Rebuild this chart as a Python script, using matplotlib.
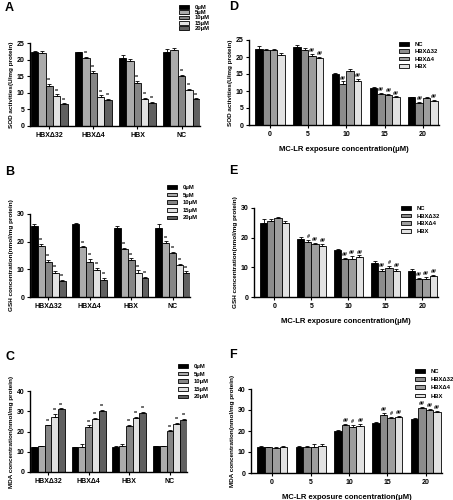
import matplotlib
matplotlib.use("Agg")
import matplotlib.pyplot as plt
import numpy as np

plt.rcParams["font.family"] = ["Liberation Sans", "DejaVu Sans"]
plt.rcParams["font.weight"] = "bold"

LINES = ["HBXΔ32", "HBXΔ4", "HBX", "NC"]
CONCS = ["0", "5", "10", "15", "20"]
CONC_LABELS = ["0μM", "5μM", "10μM", "15μM", "20μM"]
RIGHT_LINES = ["NC", "HBXΔ32", "HBXΔ4", "HBX"]

# rows: HBXΔ32, HBXΔ4, HBX, NC ; cols: 0, 5, 10, 15, 20 μM
sod_mean = [[22.2, 22.1, 12.1, 9.1, 6.5],
            [22.2, 20.4, 16.0, 8.8, 7.8],
            [20.5, 19.6, 13.0, 8.1, 7.0],
            [22.3, 22.8, 15.0, 10.8, 8.1]]
sod_err = [[0.3, 0.6, 0.7, 0.4, 0.3],
           [0.2, 0.4, 0.5, 0.4, 0.4],
           [0.8, 0.5, 0.5, 0.3, 0.3],
           [0.8, 0.6, 0.4, 0.3, 0.2]]
gsh_mean = [[25.6, 18.5, 12.8, 8.8, 5.9],
            [26.5, 18.0, 12.7, 9.7, 6.2],
            [25.1, 17.2, 13.5, 8.7, 7.0],
            [25.0, 19.6, 15.8, 11.6, 8.7]]
gsh_err = [[0.8, 0.8, 0.5, 0.7, 0.4],
           [0.3, 0.3, 1.0, 0.7, 0.6],
           [0.4, 0.6, 0.5, 0.9, 0.3],
           [1.4, 0.5, 0.5, 0.5, 0.6]]
mda_mean = [[12.2, 12.6, 23.0, 27.4, 30.9],
            [12.1, 12.3, 22.0, 26.0, 30.2],
            [12.5, 12.7, 22.5, 26.7, 29.0],
            [12.6, 12.6, 20.2, 23.9, 25.9]]
mda_err = [[0.2, 0.4, 0.3, 1.2, 0.5],
           [0.3, 1.3, 1.0, 0.6, 0.5],
           [0.5, 1.0, 0.7, 0.5, 0.6],
           [0.4, 0.3, 0.4, 0.4, 0.4]]

# significance vs 0 μM (left panels), rows as above
sod_star = [["", "", "**", "**", "**"],
            ["", "**", "**", "**", "**"],
            ["", "", "**", "**", "**"],
            ["", "", "**", "**", "**"]]
gsh_star = [["", "**", "**", "**", "**"]] * 4
mda_star = [["", "", "**", "**", "**"]] * 4

# significance vs NC (right panels): rows conc, cols NC, HBXΔ32, HBXΔ4, HBX
sod_hash = [["", "", "", ""],
            ["", "", "##", "##"],
            ["", "##", "", "##"],
            ["", "##", "##", "##"],
            ["", "##", "", "##"]]
gsh_hash = [["", "", "", ""],
            ["", "#", "##", "##"],
            ["", "##", "##", "##"],
            ["", "##", "#", "##"],
            ["", "##", "##", "##"]]
mda_hash = [["", "", "", ""],
            ["", "", "", ""],
            ["", "##", "#", "##"],
            ["", "##", "#", "##"],
            ["", "##", "##", "##"]]

LEFT_COLORS = ["#000000", "#ababab", "#858585", "#e2e2e2", "#606060"]
RIGHT_COLORS = ["#000000", "#8c8c8c", "#9e9e9e", "#e2e2e2"]

W, H = 453, 500
fig = plt.figure(figsize=(W / 100, H / 100), dpi=100)


def px_axes(left, top, right, bottom):
    return fig.add_axes([left / W, 1 - bottom / H, (right - left) / W, (bottom - top) / H])


def style_axes(ax, ymax, step):
    for side in ["top", "right"]:
        ax.spines[side].set_visible(False)
    for side in ["left", "bottom"]:
        ax.spines[side].set_linewidth(1.0)
    ax.set_ylim(0, ymax)
    ax.set_yticks(np.arange(0, ymax + 0.1, step))
    ax.tick_params(axis="both", labelsize=5, width=0.8, length=2.5, pad=1.5)
    for lab in ax.get_xticklabels() + ax.get_yticklabels():
        lab.set_fontweight("bold")


def add_legend(ax, leg_xy, spacing):
    ax.legend(loc="upper left", bbox_to_anchor=(leg_xy[0] / W, 1 - leg_xy[1] / H),
              bbox_transform=fig.transFigure, frameon=False, fontsize=4.2,
              handlelength=1.7, handleheight=0.6, labelspacing=spacing, borderpad=0,
              handletextpad=1.0)


def draw_left(box, means, errs, stars, ymax, step, ylabel, letter, letter_y, leg_xy, spacing):
    ax = px_axes(*box)
    means = np.array(means)
    errs = np.array(errs)
    w = 0.167
    x = np.arange(len(LINES))
    for j in range(len(CONCS)):
        xs = x + (j - 2) * w
        ax.bar(xs, means[:, j], w, color=LEFT_COLORS[j], edgecolor="black",
               linewidth=0.6, label=CONC_LABELS[j])
        ax.errorbar(xs, means[:, j], yerr=[np.zeros(len(LINES)), errs[:, j]],
                    fmt="none", ecolor="black", elinewidth=0.6, capsize=1.5, capthick=0.6)
        for i in range(len(LINES)):
            if stars[i][j]:
                ax.text(xs[i], means[i, j] + errs[i, j] + ymax * 0.01, stars[i][j],
                        ha="center", va="bottom", fontsize=3.8)
    ax.set_xlim(-0.44, 3.42)
    ax.set_xticks(x)
    ax.set_xticklabels(LINES)
    style_axes(ax, ymax, step)
    ax.set_ylabel(ylabel, fontsize=4.6, fontweight="bold", labelpad=2)
    fig.text(5 / W, 1 - letter_y / H, letter, fontsize=9, fontweight="bold",
             ha="left", va="center")
    add_legend(ax, leg_xy, spacing)


def draw_right(box, means, errs, hashes, ymax, step, ylabel, letter, letter_y, leg_xy, spacing):
    ax = px_axes(*box)
    means = np.array(means)
    errs = np.array(errs)
    order = [3, 0, 1, 2]  # NC, HBXΔ32, HBXΔ4, HBX
    w = 0.195
    x = np.arange(len(CONCS))
    for k, row in enumerate(order):
        xs = x + (k - 1.5) * w
        ax.bar(xs, means[row], w, color=RIGHT_COLORS[k], edgecolor="black",
               linewidth=0.6, label=RIGHT_LINES[k])
        ax.errorbar(xs, means[row], yerr=[np.zeros(len(CONCS)), errs[row]],
                    fmt="none", ecolor="black", elinewidth=0.6, capsize=1.5, capthick=0.6)
        for c in range(len(CONCS)):
            if hashes[c][k]:
                ax.text(xs[c], means[row, c] + errs[row, c] + ymax * 0.01, hashes[c][k],
                        ha="center", va="bottom", fontsize=3.8, style="italic")
    ax.set_xlim(-0.55, 4.42)
    ax.set_xticks(x)
    ax.set_xticklabels(CONCS)
    style_axes(ax, ymax, step)
    ax.set_ylabel(ylabel, fontsize=4.6, fontweight="bold", labelpad=2)
    ax.set_xlabel("MC-LR exposure concentration(μM)", fontsize=5.5, fontweight="bold",
                  labelpad=6)
    fig.text(229 / W, 1 - letter_y / H, letter, fontsize=9, fontweight="bold",
             ha="left", va="center")
    add_legend(ax, leg_xy, spacing)


draw_left((30, 43, 200, 126), sod_mean, sod_err, sod_star, 25, 5,
          "SOD activities(U/mg protein)", "A", 8, (176, 2), 0.05)
draw_left((30, 214, 190, 297), gsh_mean, gsh_err, gsh_star, 30, 10,
          "GSH concentration(nmol/mg protein)", "B", 172, (164, 182), 0.45)
draw_left((30, 391, 187, 472), mda_mean, mda_err, mda_star, 40, 10,
          "MDA concentration(nmol/mg protein)", "C", 357, (175, 361), 0.45)

draw_right((249, 40, 439, 125), sod_mean, sod_err, sod_hash, 25, 5,
           "SOD activities(U/mg protein)", "D", 7, (396, 39), 0.4)
draw_right((254, 208, 438, 297), gsh_mean, gsh_err, gsh_hash, 30, 10,
           "GSH concentration(nmol/mg protein)", "E", 171, (398, 203), 0.45)
draw_right((251, 389, 442, 473), mda_mean, mda_err, mda_hash, 40, 10,
           "MDA concentration(nmol/mg protein)", "F", 355, (412, 366), 0.55)

fig.savefig("out.png", dpi=100)
